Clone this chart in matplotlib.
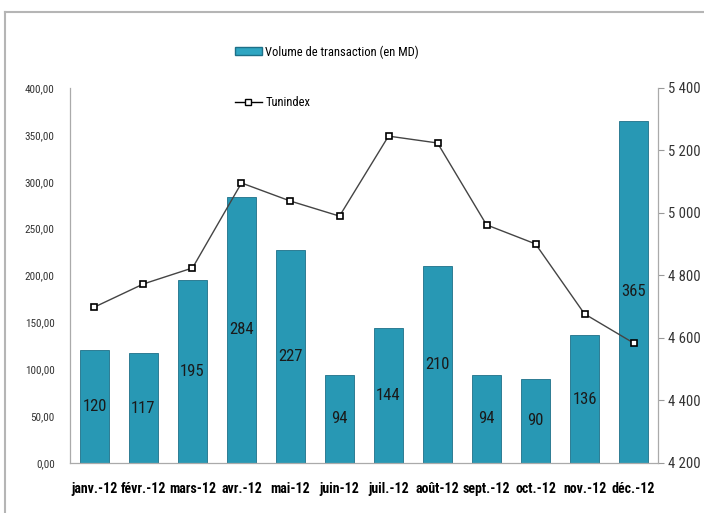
import numpy as np
import matplotlib
matplotlib.use("Agg")
import matplotlib.pyplot as plt
from matplotlib.lines import Line2D
from matplotlib.patches import Patch
from matplotlib.ticker import FuncFormatter
from matplotlib import font_manager

months = ["janv.-12", "févr.-12", "mars-12", "avr.-12", "mai-12", "juin-12",
          "juil.-12", "août-12", "sept.-12", "oct.-12", "nov.-12", "déc.-12"]
volume = [120, 117, 195, 284, 227, 94, 144, 210, 94, 90, 136, 365]
tunindex = [4699, 4773, 4824, 5096, 5038, 4990, 5246, 5224, 4962, 4901, 4677, 4584]

# pick a narrow face if one is around
names = {f.name for f in font_manager.fontManager.ttflist}
family = "DejaVu Sans"
for cand in ["Liberation Sans Narrow", "Roboto Condensed", "Open Sans Condensed", "Noto Sans Condensed"]:
    if cand in names:
        family = cand
        break
plt.rcParams["font.family"] = [family, "DejaVu Sans"]
plt.rcParams["font.stretch"] = "condensed"

fig = plt.figure(figsize=(7.04, 5.13), dpi=100)
ax = fig.add_axes([0.0994, 0.0975, 0.8353, 0.731])
ax2 = ax.twinx()

x = np.arange(len(months))
bars = ax.bar(x, volume, width=0.58, color="#2898b4", edgecolor="#1d7088", linewidth=0.6, zorder=2)
for b, v in zip(bars, volume):
    ax.text(b.get_x() + b.get_width() / 2, v / 2, str(v), ha="center", va="center",
            fontsize=12, color="#1a1a1a", zorder=3)

ax.set_xlim(-0.5, len(months) - 0.5)
ax.set_ylim(0, 400)
ax.set_yticks(np.arange(0, 401, 50))
ax.yaxis.set_major_formatter(FuncFormatter(lambda v, p: f"{v:.2f}".replace(".", ",")))
ax.set_xticks(x)
ax.set_xticklabels(months, fontsize=10, fontweight="bold")
ax.tick_params(axis="x", length=0, pad=14)
ax.tick_params(axis="y", length=0, labelsize=8, pad=11, labelcolor="#333333")

ax2.plot(x, tunindex, color="#444444", linewidth=1, marker="s", markersize=4.5,
         markerfacecolor="white", markeredgecolor="black", markeredgewidth=1.2, zorder=4)
ax2.set_ylim(4200, 5400)
ax2.set_yticks(np.arange(4200, 5401, 200))
ax2.yaxis.set_major_formatter(FuncFormatter(lambda v, p: f"{int(v):,}".replace(",", " ")))
ax2.tick_params(axis="y", length=4, color="#999999", labelsize=10.5, labelcolor="#333333", pad=3)

for a in (ax, ax2):
    a.spines["top"].set_visible(False)
    for s in ("left", "right", "bottom"):
        a.spines[s].set_color("#aaaaaa")
        a.spines[s].set_linewidth(0.9)
ax.spines["right"].set_visible(False)
ax2.spines["left"].set_visible(False)
ax2.spines["bottom"].set_visible(False)

# outer frame
x0 = 5 / 704
y0 = 1 - 12 / 513
fig.add_artist(Line2D([x0, x0], [0, y0], color="#b5b5b5", linewidth=1.5, transform=fig.transFigure))
fig.add_artist(Line2D([x0, 1], [y0, y0], color="#b5b5b5", linewidth=1.5, transform=fig.transFigure))

# legends
fig.legend(handles=[Patch(facecolor="#2fa6c2", edgecolor="#1d7088")],
           labels=["Volume de transaction (en MD)"], loc="center left",
           bbox_to_anchor=(224 / 704, 1 - 52 / 513), frameon=False, fontsize=9,
           handlelength=2.1, handleheight=0.6, handletextpad=0.3)
fig.legend(handles=[Line2D([0], [0], color="black", linewidth=1, marker="s", markersize=4,
                           markerfacecolor="white", markeredgecolor="black")],
           labels=["Tunindex"], loc="center left",
           bbox_to_anchor=(224 / 704, 1 - 103 / 513), frameon=False, fontsize=9,
           handlelength=2.1, handletextpad=0.3)

fig.savefig("out.png", dpi=100)
